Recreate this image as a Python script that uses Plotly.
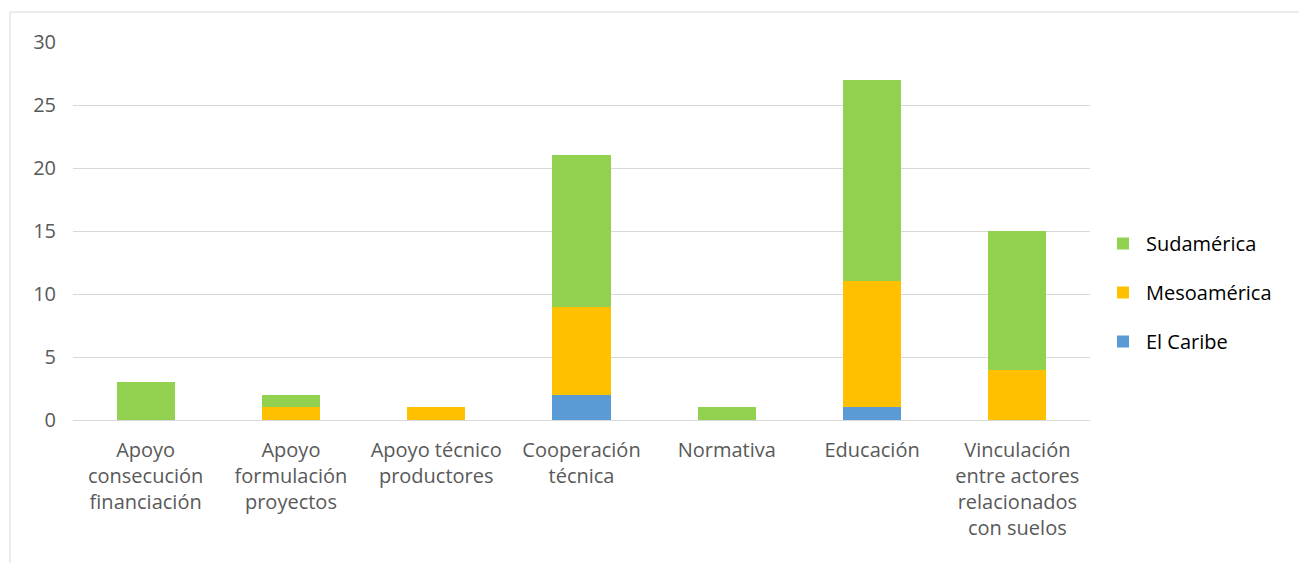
import plotly.graph_objects as go

categories = [
    "Apoyo<br>consecución<br>financiación",
    "Apoyo<br>formulación<br>proyectos",
    "Apoyo técnico<br>productores",
    "Cooperación<br>técnica",
    "Normativa",
    "Educación",
    "Vinculación<br>entre actores<br>relacionados<br>con suelos",
]
el_caribe = [0, 0, 0, 2, 0, 1, 0]
mesoamerica = [0, 1, 1, 7, 0, 10, 4]
sudamerica = [3, 1, 0, 12, 1, 16, 11]

y_ticks = [0, 5, 10, 15, 20, 25, 30]

FONT = "Open Sans"
OFF = 8  # page body margin
W, H = 1307 - OFF, 563 - OFF
L, T = 73 - OFF, 42 - OFF
R = W - (1090 - OFF)
B = H - (420 - OFF)
pw, ph = W - L - R, H - T - B

def px_x(p):
    return (p - OFF - L) / pw

def px_y(p):
    return (H - B - (p - OFF)) / ph

fig = go.Figure()
series = [("El Caribe", el_caribe, "#5B9BD5", 3),
          ("Mesoamérica", mesoamerica, "#FFC000", 2),
          ("Sudamérica", sudamerica, "#92D050", 1)]
for name, vals, col, rank in series:
    fig.add_trace(go.Bar(x=categories, y=vals, name=name, marker_color=col,
                         marker_line_width=0, legendgroup=name, legendrank=rank))

fig.update_layout(
    width=W, height=H,
    barmode="stack", bargap=0.6,
    margin=dict(l=L, r=R, t=T, b=B, autoexpand=False),
    paper_bgcolor="white", plot_bgcolor="white",
    font=dict(family=FONT, size=20, color="#595959"),
    legend=dict(x=px_x(1100), xanchor="left", y=px_y(224), yanchor="top",
                traceorder="grouped", tracegroupgap=20,
                font=dict(family=FONT, size=20, color="#000000"),
                itemwidth=36),
    yaxis=dict(range=[0, 30], tickvals=y_ticks, showgrid=True, gridcolor="#D9D9D9",
               gridwidth=1, zeroline=False, showline=False, ticks="",
               ticklabelstandoff=16, tickfont=dict(size=20, color="#595959")),
    xaxis=dict(showline=True, linecolor="#D9D9D9", linewidth=1, ticks="",
               ticklabelstandoff=12,
               tickfont=dict(size=20, color="#595959"), tickangle=0),
    shapes=[dict(type="rect", xref="paper", yref="paper",
                 x0=px_x(10), x1=px_x(1330), y0=px_y(600), y1=px_y(12),
                 line=dict(color="#D9D9D9", width=1), layer="below")],
)

fig.write_html("out.html")
